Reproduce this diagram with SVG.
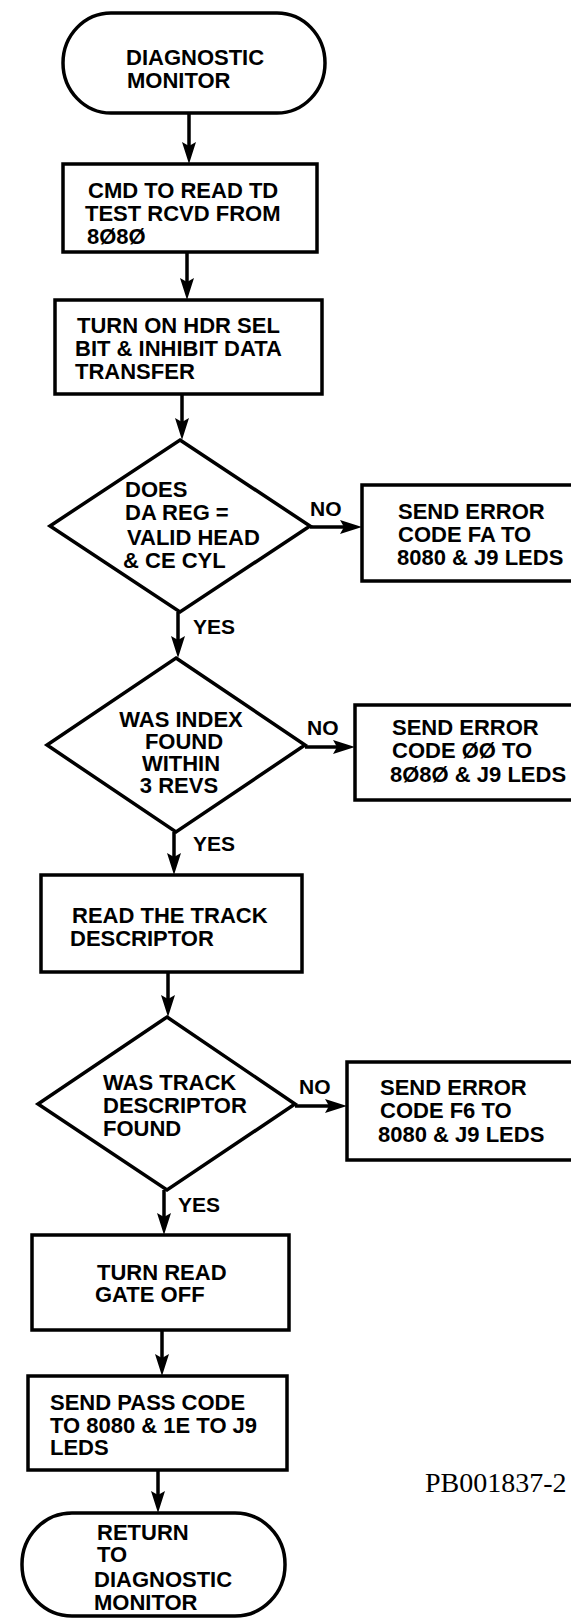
<svg xmlns="http://www.w3.org/2000/svg" width="571" height="1618" viewBox="0 0 571 1618">
<style>
.shape{fill:#fff;stroke:#000;stroke-width:3.5;stroke-linejoin:miter}
.t{font-family:"Liberation Sans",Arial,sans-serif;font-weight:bold;font-size:22px;fill:#000}
.c{text-anchor:middle}
.lbl{font-family:"Liberation Sans",Arial,sans-serif;font-weight:bold;font-size:21px;fill:#000}
.conn{stroke:#000;stroke-width:3.5;fill:none}
.id{font-family:"Liberation Serif","Times New Roman",serif;font-size:28px;fill:#000}
</style>
<defs>
<marker id="ah" viewBox="0 0 22 14" refX="14" refY="7" markerWidth="22" markerHeight="14" markerUnits="userSpaceOnUse" orient="auto">
<path d="M0,0 L22,7 L0,14 L4,7 Z" fill="#000"/>
</marker>
</defs>
<rect width="571" height="1618" fill="#fff"/>

<g id="start">
<rect class="shape" x="63" y="13" width="262" height="100" rx="48" ry="50"/>
<text class="t" x="126" y="65">DIAGNOSTIC</text>
<text class="t" x="127" y="88">MONITOR</text>
</g>

<g id="cmd">
<rect class="shape" x="63" y="164" width="254" height="88"/>
<text class="t" x="88" y="198">CMD TO READ TD</text>
<text class="t" x="85" y="221">TEST RCVD FROM</text>
<text class="t" x="87" y="244">8Ø8Ø</text>
</g>

<g id="hdrsel">
<rect class="shape" x="55" y="300" width="267" height="94"/>
<text class="t" x="77" y="333">TURN ON HDR SEL</text>
<text class="t" x="75" y="356">BIT &amp; INHIBIT DATA</text>
<text class="t" x="75" y="379">TRANSFER</text>
</g>

<g id="dec1">
<polygon class="shape" points="180,440 310,526 180,612 50,526"/>
<text class="t" x="125" y="497">DOES</text>
<text class="t" x="125" y="520">DA REG =</text>
<text class="t" x="127" y="545">VALID HEAD</text>
<text class="t" x="123" y="568">&amp; CE CYL</text>
</g>

<g id="err1">
<rect class="shape" x="362" y="485" width="230" height="96"/>
<text class="t" x="398" y="519">SEND ERROR</text>
<text class="t" x="398" y="542">CODE FA TO</text>
<text class="t" x="397" y="565">8080 &amp; J9 LEDS</text>
</g>

<g id="dec2">
<polygon class="shape" points="176,658 305,745 176,832 47,745"/>
<text class="t c" x="181" y="727">WAS INDEX</text>
<text class="t c" x="184" y="749">FOUND</text>
<text class="t c" x="181" y="771">WITHIN</text>
<text class="t c" x="179" y="793">3 REVS</text>
</g>

<g id="err2">
<rect class="shape" x="355" y="705" width="230" height="95"/>
<text class="t" x="392" y="735">SEND ERROR</text>
<text class="t" x="392" y="758">CODE ØØ TO</text>
<text class="t" x="390" y="782">8Ø8Ø &amp; J9 LEDS</text>
</g>

<g id="readtd">
<rect class="shape" x="41" y="875" width="261" height="97"/>
<text class="t" x="72" y="923">READ THE TRACK</text>
<text class="t" x="70" y="946">DESCRIPTOR</text>
</g>

<g id="dec3">
<polygon class="shape" points="167,1017 295,1104 167,1190 38,1104"/>
<text class="t" x="103" y="1090">WAS TRACK</text>
<text class="t" x="103" y="1113">DESCRIPTOR</text>
<text class="t" x="103" y="1136">FOUND</text>
</g>

<g id="err3">
<rect class="shape" x="347" y="1062" width="240" height="98"/>
<text class="t" x="380" y="1095">SEND ERROR</text>
<text class="t" x="380" y="1118">CODE F6 TO</text>
<text class="t" x="378" y="1142">8080 &amp; J9 LEDS</text>
</g>

<g id="gateoff">
<rect class="shape" x="32" y="1235" width="257" height="95"/>
<text class="t" x="97" y="1280">TURN READ</text>
<text class="t" x="95" y="1302">GATE OFF</text>
</g>

<g id="pass">
<rect class="shape" x="28" y="1376" width="259" height="94"/>
<text class="t" x="50" y="1410">SEND PASS CODE</text>
<text class="t" x="50" y="1433">TO 8080 &amp; 1E TO J9</text>
<text class="t" x="50" y="1455">LEDS</text>
</g>

<g id="end">
<rect class="shape" x="22" y="1513" width="263" height="103" rx="50" ry="51"/>
<text class="t" x="97" y="1540">RETURN</text>
<text class="t" x="97" y="1562">TO</text>
<text class="t" x="94" y="1587">DIAGNOSTIC</text>
<text class="t" x="94" y="1610">MONITOR</text>
</g>

<g id="connectors">
<line class="conn" x1="189" y1="113" x2="189" y2="156" marker-end="url(#ah)"/>
<line class="conn" x1="187" y1="252" x2="187" y2="292" marker-end="url(#ah)"/>
<line class="conn" x1="182" y1="394" x2="182" y2="432" marker-end="url(#ah)"/>
<line class="conn" x1="310" y1="527" x2="354" y2="527" marker-end="url(#ah)"/>
<line class="conn" x1="178" y1="612" x2="178" y2="650" marker-end="url(#ah)"/>
<line class="conn" x1="305" y1="747" x2="347" y2="747" marker-end="url(#ah)"/>
<line class="conn" x1="174" y1="832" x2="174" y2="867" marker-end="url(#ah)"/>
<line class="conn" x1="168" y1="972" x2="168" y2="1009" marker-end="url(#ah)"/>
<line class="conn" x1="295" y1="1106" x2="339" y2="1106" marker-end="url(#ah)"/>
<line class="conn" x1="164" y1="1190" x2="164" y2="1227" marker-end="url(#ah)"/>
<line class="conn" x1="162" y1="1330" x2="162" y2="1368" marker-end="url(#ah)"/>
<line class="conn" x1="158" y1="1470" x2="158" y2="1505" marker-end="url(#ah)"/>
<text class="lbl" x="310" y="516">NO</text>
<text class="lbl" x="307" y="735">NO</text>
<text class="lbl" x="299" y="1094">NO</text>
<text class="lbl" x="193" y="634">YES</text>
<text class="lbl" x="193" y="851">YES</text>
<text class="lbl" x="178" y="1212">YES</text>
</g>

<text class="id" x="425" y="1492">PB001837-2</text>
</svg>
